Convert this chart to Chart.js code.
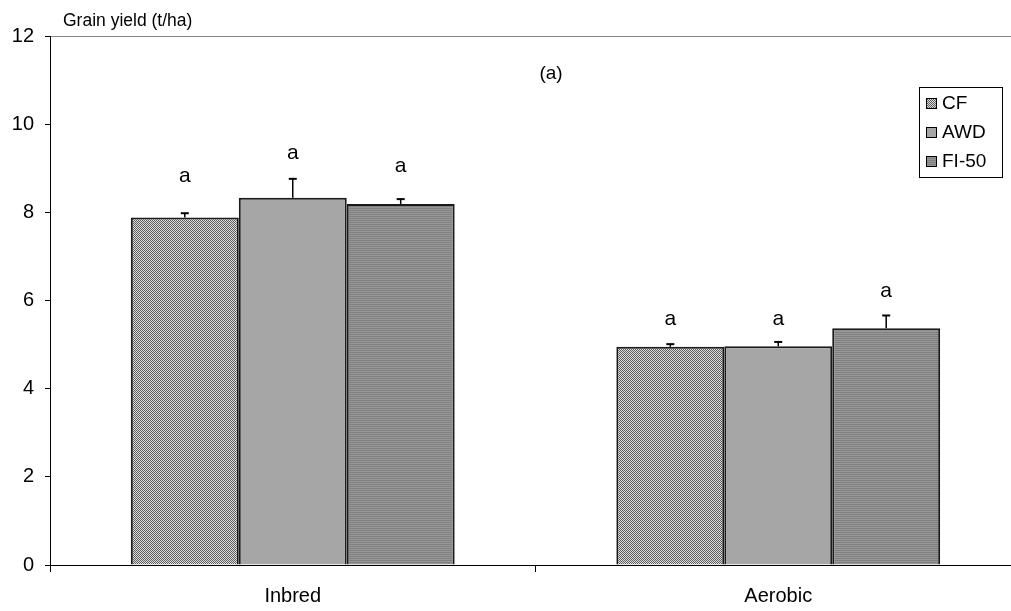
<!DOCTYPE html>
<html>
<head>
  <meta charset="UTF-8">
  <title>Grain yield</title>
  <style>
    html, body { margin: 0; padding: 0; background: #fff; overflow: hidden; }
    #wrap { width: 1030px; height: 611px; }
  </style>
  <script src="https://cdn.jsdelivr.net/npm/chart.js"></script>
</head>
<body>
  <div id="wrap"><canvas id="chart" width="1030" height="611"></canvas></div>

  <script>
    // data
    const categories = ['Inbred', 'Aerobic'];
    const seriesNames = ['CF', 'AWD', 'FI-50'];
    const cfValues = [7.88, 4.95];
    const awdValues = [8.33, 4.96];
    const fiValues = [8.19, 5.37];
    const cfErr = [0.10, 0.06];
    const awdErr = [0.43, 0.10];
    const fiErr = [0.11, 0.29];
    // significance letters and the height of their baseline (t/ha)
    const cfLetters = ['a', 'a'];
    const awdLetters = ['a', 'a'];
    const fiLetters = ['a', 'a'];
    const cfLetterY = [8.69, 5.44];
    const awdLetterY = [9.21, 5.44];
    const fiLetterY = [8.92, 6.08];
    const yTicks = [0, 2, 4, 6, 8, 10, 12];

    const FONT = '"Liberation Sans", Arial, sans-serif';

    function makePattern(colors) {
      const c = document.createElement('canvas');
      c.width = 2; c.height = 2;
      const g = c.getContext('2d');
      for (let y = 0; y < 2; y++) {
        for (let x = 0; x < 2; x++) {
          g.fillStyle = colors[y][x];
          g.fillRect(x, y, 1, 1);
        }
      }
      return g.createPattern(c, 'repeat');
    }

    const cfFill = makePattern([['#5e5e5e', '#dcdcdc'], ['#dcdcdc', '#5e5e5e']]);
    const awdFill = '#a6a6a6';
    const fiFill = makePattern([['#808080', '#808080'], ['#979797', '#979797']]);

    const fills = [cfFill, awdFill, fiFill];
    const errs = [cfErr, awdErr, fiErr];
    const letters = [cfLetters, awdLetters, fiLetters];
    const letterY = [cfLetterY, awdLetterY, fiLetterY];

    const extras = {
      id: 'extras',
      afterDatasetsDraw(chart) {
        const ctx = chart.ctx;
        const ys = chart.scales.y;
        ctx.save();
        chart.data.datasets.forEach((ds, di) => {
          const meta = chart.getDatasetMeta(di);
          meta.data.forEach((bar, i) => {
            const top = ys.getPixelForValue(ds.data[i] + errs[di][i]);
            // error bar
            ctx.strokeStyle = '#000';
            ctx.lineWidth = 1.5;
            ctx.beginPath();
            ctx.moveTo(bar.x, bar.y);
            ctx.lineTo(bar.x, top);
            ctx.stroke();
            ctx.lineWidth = 2;
            ctx.beginPath();
            ctx.moveTo(bar.x - 4, top);
            ctx.lineTo(bar.x + 4, top);
            ctx.stroke();
            // letter
            ctx.fillStyle = '#000';
            ctx.font = '21px ' + FONT;
            ctx.textAlign = 'center';
            ctx.textBaseline = 'alphabetic';
            ctx.fillText(letters[di][i], bar.x, ys.getPixelForValue(letterY[di][i]));
          });
        });
        ctx.restore();
      },
      afterDraw(chart) {
        const ctx = chart.ctx;
        ctx.save();
        // axis title
        ctx.fillStyle = '#000';
        ctx.font = '17.5px ' + FONT;
        ctx.textAlign = 'left';
        ctx.textBaseline = 'alphabetic';
        ctx.fillText('Grain yield (t/ha)', 63, 26);
        // panel label
        ctx.font = '19px ' + FONT;
        ctx.textAlign = 'center';
        ctx.textBaseline = 'middle';
        ctx.fillText('(a)', 551, 74);
        // legend
        const lx = 919, ly = 87, lw = 83, lh = 90;
        ctx.fillStyle = '#fff';
        ctx.fillRect(lx, ly, lw, lh);
        ctx.strokeStyle = '#000';
        ctx.lineWidth = 1;
        ctx.strokeRect(lx + 0.5, ly + 0.5, lw, lh);
        chart.data.datasets.forEach((ds, di) => {
          const cy = 103 + di * 29;
          ctx.fillStyle = ds.backgroundColor;
          ctx.fillRect(926, cy - 5, 11, 11);
          ctx.strokeStyle = '#000';
          ctx.lineWidth = 1;
          ctx.strokeRect(926.5, cy - 4.5, 10, 10);
          ctx.fillStyle = '#000';
          ctx.font = '19px ' + FONT;
          ctx.textAlign = 'left';
          ctx.textBaseline = 'middle';
          ctx.fillText(ds.label, 942, cy + 1);
        });
        ctx.restore();
      }
    };

    const datasets = [cfValues, awdValues, fiValues].map((vals, di) => ({
      label: seriesNames[di],
      data: vals,
      backgroundColor: fills[di],
      borderColor: '#1a1a1a',
      borderWidth: 2,
      categoryPercentage: 0.667,
      barPercentage: 1.0
    }));

    new Chart(document.getElementById('chart'), {
      type: 'bar',
      data: { labels: categories, datasets: datasets },
      options: {
        responsive: false,
        animation: false,
        devicePixelRatio: 1,
        layout: { padding: { top: 36, right: 9, left: 0, bottom: 0 } },
        plugins: {
          legend: { display: false },
          tooltip: { enabled: false }
        },
        scales: {
          x: {
            grid: {
              offset: true,
              drawOnChartArea: false,
              tickLength: 7,
              tickColor: '#000'
            },
            border: { color: '#000', width: 1 },
            ticks: {
              color: '#000',
              font: { family: FONT, size: 20 },
              padding: 12
            },
            afterFit(scale) { scale.height = 46; }
          },
          y: {
            min: 0,
            max: 12,
            afterBuildTicks(scale) { scale.ticks = yTicks.map(v => ({ value: v })); },
            grid: {
              color: ctx => ctx.tick && ctx.tick.value === 12 ? '#888' : 'rgba(0,0,0,0)',
              tickColor: '#000',
              tickLength: 5
            },
            border: { color: '#000', width: 1 },
            ticks: {
              color: '#000',
              font: { family: FONT, size: 20 },
              padding: 11
            },
            afterFit(scale) { scale.width = 50; }
          }
        }
      },
      plugins: [extras]
    });
  </script>
</body>
</html>
